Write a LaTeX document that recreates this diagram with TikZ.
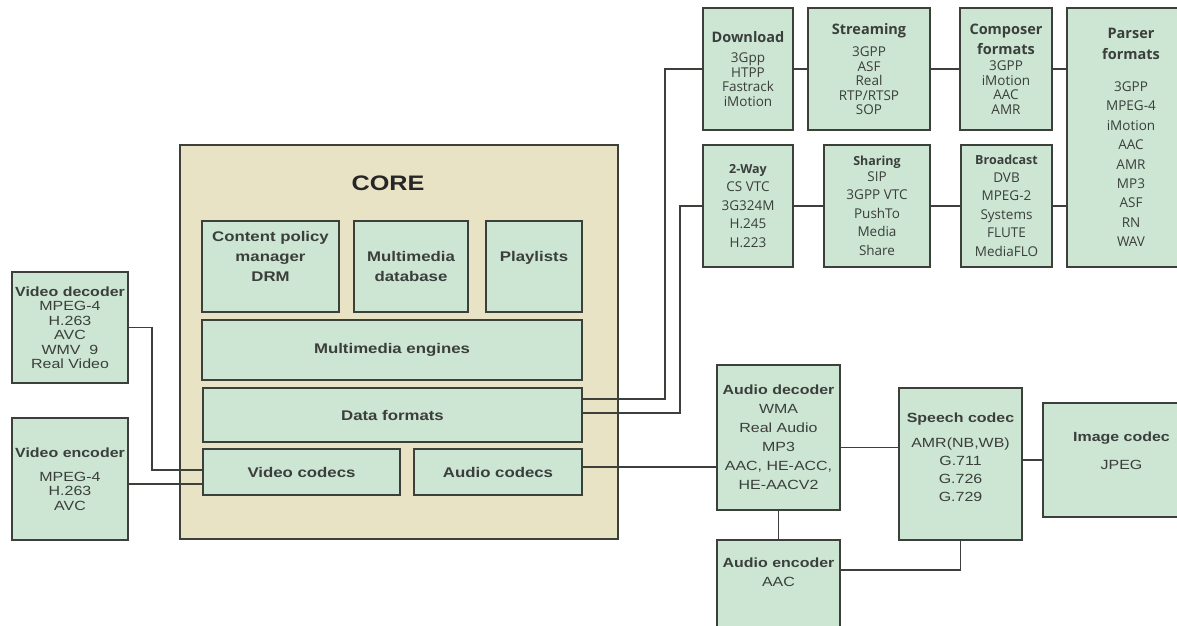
\documentclass[tikz,border=0pt]{standalone}
\usepackage{fontspec}
\setmainfont{Liberation Sans}[FakeStretch=1.2]
\newfontfamily\mediafont{Open Sans}
\usetikzlibrary{calc}

\definecolor{boxgreen}{HTML}{CDE5D3}
\definecolor{coretan}{HTML}{E9E3C6}
\definecolor{boxline}{HTML}{3C3F3A}
\definecolor{txtgray}{HTML}{3A3F3B}

\tikzset{
  box/.style={draw=boxline, fill=boxgreen, line width=1.6pt, inner sep=0pt, outer sep=0pt, align=center, text=txtgray},
  fmtbox/.style={box, font=\mediafont\fontsize{13.5}{14.5}\selectfont},
  waybox/.style={box, font=\mediafont\fontsize{13.5}{18.5}\selectfont},
  corebox/.style={box, font=\bfseries\fontsize{14}{20}\selectfont},
  codecbox/.style={box, font=\fontsize{13.3}{14.5}\selectfont},
  link/.style={draw=boxline, line width=1.6pt},
}
\newcommand{\fmttitle}[1]{{\fontsize{14.5}{15}\selectfont\bfseries #1}}
\newcommand{\waytitle}[1]{{\fontsize{12.5}{13}\selectfont\bfseries #1}}

\begin{document}
\begin{tikzpicture}[x=1pt, y=-1pt]
  \useasboundingbox (0,0) rectangle (1177,625);

  % core
  \node[box, fill=coretan, minimum width=438, minimum height=394] (core) at (399,342) {};
  \node[font=\bfseries\fontsize{21}{24}\selectfont, text=black!85] (coretitle) at (388,183) {CORE};
  \node[corebox, minimum width=137, minimum height=91] (policy) at (270.5,266.5) {Content policy\\ manager\\ DRM\\ \mbox{}};
  \node[corebox, minimum width=114, minimum height=91] (mmdb) at (411,266.5) {Multimedia\\ database};
  \node[corebox, minimum width=96, minimum height=91] (playlists) at (534,266.5) {Playlists\\ \mbox{}};
  \node[corebox, minimum width=380, minimum height=60] (engines) at (392,350) {Multimedia engines};
  \node[corebox, minimum width=379, minimum height=54] (dataformats) at (392.5,415) {Data formats};
  \node[corebox, minimum width=197, minimum height=46] (videocodecs) at (301.5,472) {Video codecs};
  \node[corebox, minimum width=168, minimum height=46] (audiocodecs) at (498,472) {Audio codecs};

  % formats
  \node[fmtbox, minimum width=90, minimum height=122] (download) at (748,69)
    {\fmttitle{Download}\\[6pt] 3Gpp\\ HTPP\\ Fastrack\\ iMotion};
  \node[fmtbox, minimum width=122, minimum height=122] (streaming) at (869,69)
    {\fmttitle{Streaming}\\[8pt] 3GPP\\ ASF\\ Real\\ RTP/RTSP\\ SOP};
  \node[fmtbox, minimum width=92, minimum height=122] (composer) at (1006,69)
    {\fmttitle{Composer}\\[4pt] \fmttitle{formats}\\[2pt] 3GPP\\ iMotion\\ AAC\\ AMR};
  \node[box, font=\mediafont\fontsize{13.5}{19.4}\selectfont, minimum width=128, minimum height=259] (parser) at (1131,137.5)
    {\fmttitle{Parser}\\[1pt] \fmttitle{formats}\\[13pt] 3GPP\\ MPEG-4\\ iMotion\\ AAC\\ AMR\\ MP3\\ ASF\\ RN\\ WAV};
  \node[waybox, minimum width=90, minimum height=122] (twoway) at (748,206)
    {\waytitle{2-Way}\\ CS VTC\\ 3G324M\\ H.245\\ H.223};
  \node[waybox, minimum width=106, minimum height=122] (sharing) at (877,206)
    {\waytitle{Sharing}\\[-3pt] SIP\\ 3GPP VTC\\ PushTo\\ Media\\ Share};
  \node[waybox, minimum width=91, minimum height=122] (broadcast) at (1006.5,206)
    {\waytitle{Broadcast}\\[-1pt] DVB\\ MPEG-2\\ Systems\\ FLUTE\\ MediaFLO};

  % codecs
  \node[codecbox, minimum width=116, minimum height=111] (viddec) at (70,327.5)
    {\textbf{Video decoder}\\ MPEG-4\\ H.263\\ AVC\\ WMV\ \ 9\\ Real Video};
  \node[codecbox, minimum width=116, minimum height=122] (videnc) at (70,479)
    {\textbf{Video encoder}\\[9pt] MPEG-4\\ H.263\\ AVC};
  \node[codecbox, font=\fontsize{13.3}{19}\selectfont, minimum width=123, minimum height=145] (auddec) at (778.5,437.5)
    {\textbf{Audio decoder}\\ WMA\\ Real Audio\\ MP3\\ AAC, HE-ACC,\\ HE-AACV2};
  \node[codecbox, font=\fontsize{13.3}{19}\selectfont, minimum width=123, minimum height=90] (audenc) at (778.5,585)
    {\textbf{Audio encoder}\\ AAC\\[6pt] \mbox{}};
  \node[codecbox, font=\fontsize{13.3}{18}\selectfont, minimum width=123, minimum height=152] (speech) at (960.5,464)
    {\textbf{Speech codec}\\[7pt] AMR(NB,WB)\\ G.711\\ G.726\\ G.729\\[-5pt] \mbox{}};
  \node[codecbox, minimum width=157, minimum height=114] (image) at (1121.5,460)
    {\textbf{Image codec}\\[14pt] JPEG\\[4pt] \mbox{}};

  % links
  \draw[link] ([yshift=16pt]dataformats.east) -- ++(83,0) |- (download.west);
  \draw[link] ([yshift=2pt]dataformats.east) -- ++(98,0) |- (twoway.west);
  \draw[link] (download) -- (streaming);
  \draw[link] (streaming) -- (composer);
  \draw[link] (composer.east) -- (composer.east -| parser.west);
  \draw[link] (twoway) -- (sharing);
  \draw[link] (sharing) -- (broadcast);
  \draw[link] (broadcast.east) -- (broadcast.east -| parser.west);
  \coordinate (acout) at ([yshift=5pt]audiocodecs.east);
  \draw[link] (acout) -- (acout -| auddec.west);
  \draw[link] (viddec.east) -- ++(24,0) |- ([yshift=2pt]videocodecs.west);
  \coordinate (vcin) at ([yshift=-12pt]videocodecs.west);
  \draw[link] (vcin) -- (vcin -| videnc.east);
  \draw[link] (auddec) -- (audenc);
  \coordinate (adout) at ([yshift=-10pt]auddec.east);
  \draw[link] (adout) -- (adout -| speech.west);
  \draw[link] ([yshift=15pt]audenc.east) -| (speech.south);
  \draw[link] (image.west) -- (image.west -| speech.east);
\end{tikzpicture}
\end{document}
